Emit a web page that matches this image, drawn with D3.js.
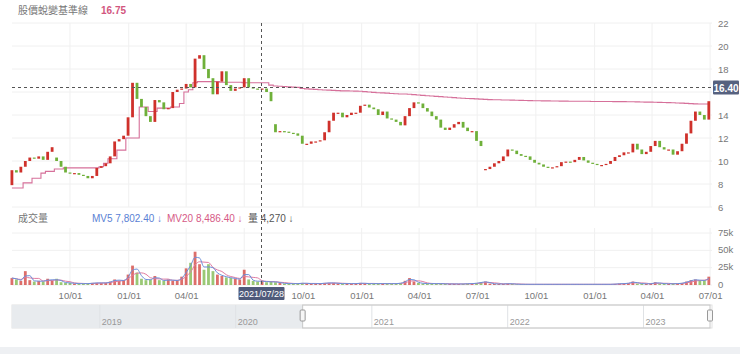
<!DOCTYPE html>
<html>
<head>
<meta charset="utf-8">
<script src="https://cdn.jsdelivr.net/npm/d3@7"></script>
<style>
  body { margin: 0; background: #fff; }
  svg { display: block; font-family: "Liberation Sans", "Noto Sans CJK TC", sans-serif; }
</style>
</head>
<body>
<div id="chart"></div>
<script>
// Weekly samples (first week starting 2020-07-02)
var weekStart = "2020-07-02";

var closes = [
  9.2, 9.0, 9.5, 10.0, 10.3, 10.2, 10.4, 10.1, 10.8, 11.2,
  10.0, 9.5, 9.0, 8.9, 8.95, 8.8, 8.7, 8.5, 8.7, 9.4,
  9.55, 9.8, 10.4, 11.7, 11.9, 12.2, 13.8, 16.8, 15.4, 14.7,
  13.9, 13.4, 15.3, 15.1, 14.5, 14.6, 16.0, 16.2, 16.3, 16.7,
  16.4, 18.9, 19.2, 18.0, 17.2, 15.8, 16.9, 17.8, 16.6, 16.1,
  16.3, 16.4, 17.2, 16.4, 16.3, 16.2, 16.3, 16.0, 15.2, 12.5,
  12.6, 12.55, 12.45, 12.4, 12.2, 11.5, 11.5, 11.7, 11.7, 11.8,
  12.5, 13.5, 14.2, 14.2, 13.8, 14.0, 14.2, 14.2, 14.8, 14.9,
  14.65, 14.5, 14.0, 14.3, 13.7, 13.6, 13.4, 13.1, 13.9, 14.6,
  15.1, 15.0, 14.6, 14.3, 13.9, 13.6, 12.9, 12.7, 12.9, 13.2,
  13.4, 12.9, 12.6, 12.6, 11.75, 11.3, 9.3, 9.5, 9.8, 10.0,
  10.4, 11.0, 10.9, 10.6, 10.45, 10.4, 10.1, 9.85, 9.7, 9.5,
  9.4, 9.45, 9.55, 9.9, 9.95, 9.9, 10.1, 10.35, 10.05, 9.85,
  9.75, 9.65, 9.65, 9.75, 10.0, 10.35, 10.5, 10.75, 10.75, 11.5,
  11.0, 10.6, 10.8, 11.3, 11.75, 11.2, 11.0, 11.0, 10.55, 10.85,
  11.5, 12.4, 13.5, 14.3, 14.0, 13.6, 15.2
];

// 股價蛻變基準線
var baseLine = [
  7.65, 7.65, 7.65, 8.1, 8.1, 8.5, 8.5, 8.95, 9.1, 9.1,
  9.3, 9.3, 9.4, 9.4, 9.4, 9.4, 9.4, 9.4, 9.4, 9.4,
  9.5, 9.8, 10.2, 10.2, 10.95, 10.95, 12.0, 12.0, 12.0, 14.7,
  14.7, 14.3, 14.3, 14.6, 14.6, 14.6, 14.7, 14.7, 15.0, 16.0,
  16.2, 16.8, 16.9, 16.9, 16.9, 16.9, 16.9, 16.85, 16.85, 16.85,
  16.85, 16.85, 16.8, 16.8, 16.8, 16.8, 16.8, 16.8, 16.6, 16.52,
  16.5, 16.48, 16.45, 16.42, 16.4, 16.3, 16.27, 16.25, 16.23, 16.2,
  16.18, 16.16, 16.14, 16.12, 16.1, 16.1, 16.09, 16.08, 16.06, 16.03,
  16.0, 15.97, 15.94, 15.92, 15.9, 15.87, 15.85, 15.83, 15.82, 15.8,
  15.77, 15.74, 15.71, 15.68, 15.65, 15.62, 15.6, 15.57, 15.54, 15.51,
  15.48, 15.46, 15.44, 15.42, 15.4, 15.38, 15.36, 15.34, 15.33, 15.32,
  15.31, 15.3, 15.29, 15.28, 15.27, 15.26, 15.25, 15.24, 15.24, 15.23,
  15.23, 15.22, 15.22, 15.21, 15.21, 15.2, 15.2, 15.2, 15.19, 15.19,
  15.18, 15.18, 15.18, 15.17, 15.17, 15.16, 15.16, 15.16, 15.15, 15.15,
  15.14, 15.13, 15.12, 15.12, 15.11, 15.1, 15.09, 15.08, 15.06, 15.05,
  15.03, 15.01, 14.99, 14.97, 14.96, 14.96, 14.96
];

// volume, thousands of shares
var volumes = [
  10, 8, 6, 20, 7, 5, 6, 5, 9, 6,
  9, 4, 3, 3, 2, 2, 2, 2, 3, 3,
  3, 3, 5, 8, 6, 7, 15, 28, 18, 9,
  7, 8, 13, 7, 6, 8, 6, 7, 12, 24,
  32, 48, 30, 22, 30, 20, 15, 13, 11, 10,
  9, 8, 22, 8, 6, 5, 6, 4, 5, 4,
  3, 2, 2, 2, 2, 3, 2, 2, 2, 2,
  3, 3, 3, 2, 2, 2, 2, 2, 3, 2,
  2, 2, 2, 2, 2, 2, 2, 3, 6, 10,
  5, 3, 2, 2, 2, 2, 2, 1.5, 1.5, 1.5,
  1.5, 1.5, 2, 2, 3, 4, 5, 2, 1.5, 1.5,
  1.5, 2, 1.5, 1, 1, 1, 1, 1, 1, 1,
  1, 1, 1, 1, 1, 1, 1, 1, 1, 1,
  1, 1, 1, 1, 1, 1.5, 2, 2, 3, 5,
  2, 2, 1.5, 2, 4, 2, 2, 1.5, 2, 2,
  3, 5, 7, 8, 6, 7, 12
];

// weeks with an ex-rights gap, and the reference price they open at
var exRightsWeeks = [10, 59, 106];
var exRightsOpen = [10.3, 13.2, 9.25];
var firstOpen = 7.9;

var priceTicks = [6, 8, 10, 12, 14, 16, 18, 20, 22];
var volTicks = [0, 25000, 50000, 75000];
var volTickLabels = ["0", "25k", "50k", "75k"];
var monthTicks = ["2020-10-01", "2021-01-01", "2021-04-01", "2021-07-01", "2021-10-01", "2022-01-01",
  "2022-04-01", "2022-07-01", "2022-10-01", "2023-01-01", "2023-04-01", "2023-07-01"];
var yearTicks = ["2019-01-01", "2020-01-01", "2021-01-01", "2022-01-01", "2023-01-01"];

var crossDate = "2021-07-28";
var crossPrice = 16.40;
var baseValue = "16.75";
var mv5Text = "7,802.40";
var mv20Text = "8,486.40";
var volText = "4,270";

var svgWidth = 740;
var svgHeight = 354;
var parse = d3.timeParse("%Y-%m-%d");

var svg = d3.select("#chart").append("svg")
  .attr("width", svgWidth)
  .attr("height", svgHeight);

// build weekly records
var start = parse(weekStart);
var data = closes.map(function(c, i) {
  var open = i === 0 ? firstOpen : closes[i - 1];
  var k = exRightsWeeks.indexOf(i);
  if (k >= 0) open = exRightsOpen[k];
  return { date: d3.timeDay.offset(start, 7 * i), open: open, close: c, base: baseLine[i], vol: volumes[i] * 1000 };
});
// moving averages of volume
data.forEach(function(d, i) {
  d.mv5 = d3.mean(data.slice(Math.max(0, i - 1), i + 1), e => e.vol);
  d.mv20 = d3.mean(data.slice(Math.max(0, i - 3), i + 1), e => e.vol);
});

var x = d3.scaleTime()
  .domain([parse("2020-06-29"), parse("2023-07-04")])
  .range([10, 712]);
var y = d3.scaleLinear().domain([6, 22]).range([207, 23]);
var yVol = d3.scaleLinear().domain([0, 75000]).range([285, 233]);

var up = "#cf312b", down = "#6fb03a";
var grid = "#f0f0f0";

var cx = Math.round(x(parse(crossDate))) + 0.5;
var cy = Math.round(y(crossPrice)) + 0.5;

// grid
svg.append("g").selectAll("line")
  .data(priceTicks).enter().append("line")
  .attr("x1", 12).attr("x2", 712)
  .attr("y1", d => y(d)).attr("y2", d => y(d))
  .attr("stroke", grid);
svg.append("g").selectAll("line")
  .data(volTicks).enter().append("line")
  .attr("x1", 12).attr("x2", 712)
  .attr("y1", d => yVol(d)).attr("y2", d => yVol(d))
  .attr("stroke", grid);
svg.append("g").selectAll("line")
  .data(monthTicks).enter().append("line")
  .attr("x1", d => x(parse(d))).attr("x2", d => x(parse(d)))
  .attr("y1", 23).attr("y2", 207)
  .attr("stroke", grid);
svg.append("g").selectAll("line")
  .data(monthTicks).enter().append("line")
  .attr("x1", d => x(parse(d))).attr("x2", d => x(parse(d)))
  .attr("y1", 228).attr("y2", 285)
  .attr("stroke", grid);

// axes (labels hidden behind the crosshair tags are dropped)
var priceAxis = svg.append("g")
  .attr("transform", "translate(712,0)")
  .call(d3.axisRight(y).tickValues(priceTicks.filter(d => Math.abs(y(d) - cy) > 9))
    .tickSize(0).tickPadding(6));
var volAxis = svg.append("g")
  .attr("transform", "translate(712,-1)")
  .call(d3.axisRight(yVol).tickValues(volTicks).tickSize(0).tickPadding(6)
    .tickFormat((d, i) => volTickLabels[i]));
var timeAxis = svg.append("g")
  .attr("transform", "translate(0,291)")
  .call(d3.axisBottom(x)
    .tickValues(monthTicks.map(parse).filter(d => Math.abs(x(d) - cx) > 32))
    .tickSize(0).tickPadding(1)
    .tickFormat(d3.timeFormat("%m/%d")));
[priceAxis, volAxis, timeAxis].forEach(function(g) {
  g.select(".domain").remove();
  g.selectAll("text").attr("fill", "#777").style("font-size", "9.5px").style("font-family", "inherit");
});

// base line
svg.append("path")
  .datum(data)
  .attr("fill", "none")
  .attr("stroke", "#d6709a")
  .attr("stroke-width", 1.1)
  .attr("d", d3.line().curve(d3.curveStep).x(d => x(d.date)).y(d => y(d.base)));

// candles
svg.append("g").selectAll("rect")
  .data(data).enter().append("rect")
  .attr("x", d => x(d.date) - 1.4)
  .attr("width", 2.8)
  .attr("y", d => y(Math.max(d.open, d.close)))
  .attr("height", d => Math.max(1.2, Math.abs(y(d.open) - y(d.close))))
  .attr("fill", d => d.close >= d.open ? up : down);

// volume bars
svg.append("g").selectAll("rect")
  .data(data).enter().append("rect")
  .attr("x", d => x(d.date) - 1.4)
  .attr("width", 2.8)
  .attr("y", d => yVol(d.vol))
  .attr("height", d => yVol(0) - yVol(d.vol))
  .attr("fill", d => d.close >= d.open ? up : down)
  .attr("opacity", 0.7);

svg.append("path")
  .datum(data)
  .attr("fill", "none").attr("stroke", "#e07aa0").attr("stroke-width", 1)
  .attr("d", d3.line().curve(d3.curveMonotoneX).x(d => x(d.date)).y(d => yVol(d.mv20)));
svg.append("path")
  .datum(data)
  .attr("fill", "none").attr("stroke", "#6c8fd9").attr("stroke-width", 1)
  .attr("d", d3.line().curve(d3.curveMonotoneX).x(d => x(d.date)).y(d => yVol(d.mv5)));

// legends
var fs = "10px";
svg.append("text").attr("x", 18).attr("y", 14)
  .attr("fill", "#777").style("font-size", fs).text("股價蛻變基準線");
svg.append("text").attr("x", 101).attr("y", 14)
  .attr("fill", "#d2567e").style("font-size", fs).style("font-weight", "bold").text(baseValue);

svg.append("text").attr("x", 18).attr("y", 222)
  .attr("fill", "#777").style("font-size", fs).text("成交量");
svg.append("text").attr("x", 92).attr("y", 222)
  .attr("fill", "#5a7fd4").style("font-size", fs).text("MV5 " + mv5Text + " ↓");
svg.append("text").attr("x", 167).attr("y", 222)
  .attr("fill", "#d65a86").style("font-size", fs).text("MV20 " + mv20Text + " ↓");
svg.append("text").attr("x", 248).attr("y", 222)
  .attr("fill", "#555").style("font-size", fs).text("量 " + volText + " ↓");

// crosshair
svg.append("line").attr("x1", cx).attr("x2", cx).attr("y1", 23).attr("y2", 288)
  .attr("stroke", "#555").attr("stroke-dasharray", "3,3");
svg.append("line").attr("x1", 12).attr("x2", 712).attr("y1", cy).attr("y2", cy)
  .attr("stroke", "#555").attr("stroke-dasharray", "3,3");
svg.append("rect").attr("x", 713).attr("y", cy - 7).attr("width", 26).attr("height", 14)
  .attr("rx", 1).attr("fill", "#56617f");
svg.append("text").attr("x", 726).attr("y", cy + 4).attr("text-anchor", "middle")
  .attr("fill", "#fff").style("font-size", "10px").style("font-weight", "bold")
  .text(crossPrice.toFixed(2));
svg.append("rect").attr("x", cx - 23).attr("y", 287).attr("width", 46).attr("height", 13)
  .attr("rx", 1).attr("fill", "#4f5a7a");
svg.append("text").attr("x", cx).attr("y", 297).attr("text-anchor", "middle")
  .attr("fill", "#fff").style("font-size", "9px")
  .text(d3.timeFormat("%Y/%m/%d")(parse(crossDate)));

// navigator
var xNav = d3.scaleTime()
  .domain([parse("2018-05-10"), parse("2023-07-04")])
  .range([12, 712]);
var navTop = 305, navH = 23;
svg.append("rect").attr("x", 12).attr("y", navTop).attr("width", 700).attr("height", navH)
  .attr("fill", "#fff").attr("stroke", "#e2e2e2");
var selStart = x.invert(10);
svg.append("rect").attr("x", 12).attr("y", navTop).attr("width", xNav(selStart) - 12).attr("height", navH)
  .attr("fill", "#e8ebee");
svg.append("g").selectAll("line")
  .data(yearTicks).enter().append("line")
  .attr("x1", d => xNav(parse(d))).attr("x2", d => xNav(parse(d)))
  .attr("y1", navTop).attr("y2", navTop + navH)
  .attr("stroke", "#dfe2e5");
svg.append("g").selectAll("text")
  .data(yearTicks).enter().append("text")
  .attr("x", d => xNav(parse(d)) + 2).attr("y", navTop + 20)
  .attr("fill", "#999").style("font-size", "9px")
  .text(d => d.slice(0, 4));
svg.append("rect").attr("x", xNav(selStart)).attr("y", navTop)
  .attr("width", 710 - xNav(selStart)).attr("height", navH)
  .attr("fill", "none").attr("stroke", "#c8c8c8");
[xNav(selStart), 710].forEach(function(hx) {
  svg.append("rect").attr("x", hx - 2.5).attr("y", navTop + 5).attr("width", 5).attr("height", 11)
    .attr("rx", 1).attr("fill", "#f6f6f6").attr("stroke", "#999");
});

// page footer band
svg.append("rect").attr("x", 0).attr("y", 347).attr("width", svgWidth).attr("height", 7)
  .attr("fill", "#eef0f3");
</script>
</body>
</html>
